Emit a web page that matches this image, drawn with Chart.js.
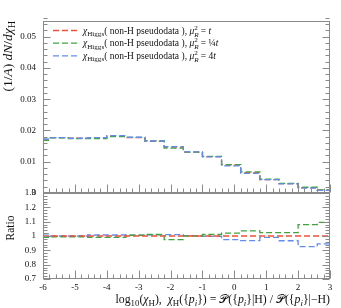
<!DOCTYPE html>
<html>
<head>
<meta charset="utf-8">
<script src="https://cdn.jsdelivr.net/npm/chart.js@4.4.0/dist/chart.umd.min.js"></script>
<style>
  html, body { margin: 0; padding: 0; background: #fff; }
  #wrap { position: relative; width: 341px; height: 308px; }
  #wrap canvas { position: absolute; left: 0; top: 0; }
</style>
</head>
<body>
<div id="wrap">
  <canvas id="mainChart" width="341" height="308"></canvas>
  <canvas id="ratioChart" width="341" height="308"></canvas>
</div>
<script>
// bin edges in log10(chi_H)
const binEdges = [-6, -5.8, -5.2, -4.6, -4.0, -3.4, -2.8, -2.2, -1.6, -1.0, -0.4, 0.2, 0.8, 1.4, 2.0, 2.6, 3.0];

// (1/A) dN/dchi_H per bin
const muCentral = [0.0170, 0.0177, 0.0175, 0.0176, 0.0182, 0.0177, 0.0165, 0.0147, 0.0131, 0.0116, 0.0089, 0.0065, 0.0043, 0.0030, 0.0017, 0.0009];
const muQuarter = [0.01683, 0.01761, 0.01741, 0.01742, 0.01802, 0.01779, 0.01667, 0.01433, 0.01310, 0.01172, 0.00908, 0.00673, 0.00440, 0.00307, 0.001836, 0.000986];
const muFour    = [0.01726, 0.0177, 0.0175, 0.01772, 0.01833, 0.01782, 0.01663, 0.01485, 0.01314, 0.01157, 0.00868, 0.00629, 0.004257, 0.002901, 0.001573, 0.000851];

const xTicks = [-6, -5, -4, -3, -2, -1, 0, 1, 2, 3];
const xTickLabels = ['-6', '-5', '-4', '-3', '-2', '-1', '0', '1', '2', '3'];
const mainTicks = [0, 0.01, 0.02, 0.03, 0.04, 0.05];
const mainTickLabels = ['0', '0.01', '0.02', '0.03', '0.04', '0.05'];
const ratioTicks = [0.7, 0.8, 0.9, 1, 1.1, 1.2, 1.3];
const ratioTickLabels = ['0.7', '0.8', '0.9', '1', '1.1', '1.2', '1.3'];

const RED = 'rgb(238,80,58)';
const GREEN = 'rgb(62,165,62)';
const BLUE = 'rgb(98,140,240)';
const FRAME = '#8a8a8a';
const SERIF = '"Liberation Serif", "DejaVu Serif", serif';

function fnt(size, italic) {
    return (italic ? 'italic ' : '') + size + 'px ' + SERIF;
}

// turn per-bin values into step points (last edge repeats the last value)
function histPoints(vals) {
    const pts = vals.map((v, i) => ({ x: binEdges[i], y: v }));
    pts.push({ x: binEdges[binEdges.length - 1], y: vals[vals.length - 1] });
    return pts;
}

function ratioTo(vals) {
    return vals.map((v, i) => v / muCentral[i]);
}

// rich text: parts are {t, i, s} or {sup, sub}
const SUB = 0.75;
function partWidth(ctx, p, size) {
    if (p.sup !== undefined) {
        ctx.font = fnt(size * SUB, false);
        const w1 = ctx.measureText(p.sup).width;
        ctx.font = fnt(size * SUB, true);
        const w2 = ctx.measureText(p.sub).width;
        return Math.max(w1, w2);
    }
    ctx.font = fnt(p.s ? size * SUB : size, p.i);
    return ctx.measureText(p.t).width;
}

function drawRich(ctx, parts, x, y, size, align) {
    let total = 0;
    parts.forEach(p => { total += partWidth(ctx, p, size); });
    let cx = align === 'right' ? x - total : align === 'center' ? x - total / 2 : x;
    ctx.textAlign = 'left';
    ctx.textBaseline = 'alphabetic';
    parts.forEach(p => {
        const w = partWidth(ctx, p, size);
        if (p.sup !== undefined) {
            ctx.font = fnt(size * SUB, false);
            ctx.fillText(p.sup, cx, y - size * 0.42);
            ctx.font = fnt(size * SUB, true);
            ctx.fillText(p.sub, cx, y + size * 0.32);
        } else {
            ctx.font = fnt(p.s ? size * SUB : size, p.i);
            const dy = p.s === 'sub' ? size * 0.25 : p.s === 'sup' ? -size * 0.4 : 0;
            ctx.fillText(p.t, cx, y + dy);
        }
        cx += w;
    });
}

function legendParts(scaleParts) {
    return [
        { t: 'χ', i: true }, { t: 'Higgs', s: 'sub' },
        { t: '( non-H pseudodata ), ' },
        { t: 'μ', i: true }, { sup: '2', sub: 'R' },
        { t: ' = ' }
    ].concat(scaleParts);
}

// frame + inward ticks, Rivet style
function frameTicks(minorY) {
    return {
        id: 'frameTicks',
        afterDatasetsDraw(chart) {
            const ctx = chart.ctx;
            const a = chart.chartArea;
            const xs = chart.scales.x;
            const ys = chart.scales.y;
            ctx.save();
            ctx.strokeStyle = FRAME;
            ctx.lineWidth = 1;
            const L = Math.round(a.left) + 0.5, R = Math.round(a.right) - 0.5;
            const T = Math.round(a.top) + 0.5, B = Math.round(a.bottom) - 0.5;
            ctx.strokeRect(L, T, R - L, B - T);
            ctx.beginPath();
            // x ticks on the bottom edge
            for (let v = xs.min; v <= xs.max + 1e-9; v += 0.2) {
                const major = Math.abs(v - Math.round(v)) < 1e-6;
                const px = Math.round(xs.getPixelForValue(v)) + 0.5;
                ctx.moveTo(px, B);
                ctx.lineTo(px, B - (major ? 8 : 4));
            }
            // y ticks on left and right
            const nMinor = Math.round((ys.max - ys.min) / minorY);
            for (let k = 0; k <= nMinor; k++) {
                const v = ys.min + k * minorY;
                const major = k % 5 === 0;
                const py = Math.round(ys.getPixelForValue(v)) + 0.5;
                const len = major ? 7 : 4;
                ctx.moveTo(L, py); ctx.lineTo(L + len, py);
                ctx.moveTo(R, py); ctx.lineTo(R - len, py);
            }
            ctx.stroke();
            ctx.restore();
        }
    };
}

const mainDecor = {
    id: 'mainDecor',
    afterDraw(chart) {
        const ctx = chart.ctx;
        ctx.save();
        ctx.fillStyle = '#111';
        // y title
        ctx.translate(11.5, 21);
        ctx.rotate(-Math.PI / 2);
        drawRich(ctx, [
            { t: '(1/' }, { t: 'A', i: true }, { t: ') ' },
            { t: 'dN', i: true }, { t: '/' }, { t: 'd', i: true },
            { t: 'χ', i: true }, { t: 'H', s: 'sub' }
        ], 0, 0, 13.5, 'right');
        ctx.restore();

        // legend
        const rows = [
            legendParts([{ t: 't', i: true }]),
            legendParts([{ t: '¼' }, { t: 't', i: true }]),
            legendParts([{ t: '4' }, { t: 't', i: true }])
        ];
        ctx.save();
        chart.data.datasets.forEach((ds, k) => {
            const y = 30.5 + k * 12.7;
            ctx.strokeStyle = ds.borderColor;
            ctx.lineWidth = 1.3;
            ctx.setLineDash([6, 3]);
            ctx.beginPath();
            ctx.moveTo(53, y);
            ctx.lineTo(79, y);
            ctx.stroke();
            ctx.fillStyle = '#111';
            drawRich(ctx, rows[k], 83, y + 3, 9.5, 'left');
        });
        ctx.restore();
    }
};

const ratioDecor = {
    id: 'ratioDecor',
    afterDraw(chart) {
        const ctx = chart.ctx;
        ctx.save();
        ctx.fillStyle = '#111';
        ctx.translate(14, 228);
        ctx.rotate(-Math.PI / 2);
        drawRich(ctx, [{ t: 'Ratio' }], 0, 0, 11.5, 'center');
        ctx.restore();

        ctx.save();
        ctx.fillStyle = '#111';
        const P = { t: '𝒫' };
        drawRich(ctx, [
            { t: 'log' }, { t: '10', s: 'sub' }, { t: '(' }, { t: 'χ', i: true }, { t: 'H', s: 'sub' },
            { t: '),  ' }, { t: 'χ', i: true }, { t: 'H', s: 'sub' }, { t: '({' }, { t: 'p', i: true },
            { t: 'i', i: true, s: 'sub' }, { t: '}) = ' }, P, { t: '({' }, { t: 'p', i: true },
            { t: 'i', i: true, s: 'sub' }, { t: '}|H) / ' }, P, { t: '({' }, { t: 'p', i: true },
            { t: 'i', i: true, s: 'sub' }, { t: '}|−H)' }
        ], 330, 303, 11.8, 'right');
        ctx.restore();
    }
};

function lineSet(label, vals, color, order) {
    return {
        label: label,
        data: vals,
        borderColor: color,
        backgroundColor: color,
        borderWidth: 1.3,
        borderDash: [6, 3],
        stepped: 'before',
        pointRadius: 0,
        fill: false,
        order: order
    };
}

function yScale(min, max, ticks, labels) {
    return {
        type: 'linear',
        min: min,
        max: max,
        afterFit: s => { s.width = 43; },
        afterBuildTicks: s => { s.ticks = ticks.map(v => ({ value: v })); },
        grid: { display: false, drawTicks: false },
        border: { display: false },
        ticks: {
            autoSkip: false,
            padding: 7,
            color: '#111',
            font: { family: SERIF, size: 9 },
            callback: (v, i) => labels[i]
        }
    };
}

Chart.defaults.animation = false;

new Chart(document.getElementById('mainChart'), {
    type: 'line',
    data: {
        datasets: [
            lineSet('mu_R^2 = t', histPoints(muCentral), RED, 3),
            lineSet('mu_R^2 = t/4', histPoints(muQuarter), GREEN, 2),
            lineSet('mu_R^2 = 4t', histPoints(muFour), BLUE, 1)
        ]
    },
    options: {
        responsive: false,
        layout: { padding: { left: 0, top: 21, right: 11, bottom: 115 } },
        plugins: { legend: { display: false }, tooltip: { enabled: false } },
        scales: {
            x: { type: 'linear', min: -6, max: 3, display: false },
            y: yScale(0, 0.055, mainTicks, mainTickLabels)
        }
    },
    plugins: [frameTicks(0.002), mainDecor]
});

new Chart(document.getElementById('ratioChart'), {
    type: 'line',
    data: {
        datasets: [
            lineSet('ref', histPoints(ratioTo(muCentral)), RED, 0),
            lineSet('quarter', histPoints(ratioTo(muQuarter)), GREEN, 1),
            lineSet('four', histPoints(ratioTo(muFour)), BLUE, 2)
        ]
    },
    options: {
        responsive: false,
        layout: { padding: { left: 0, top: 193, right: 11, bottom: 0 } },
        plugins: { legend: { display: false }, tooltip: { enabled: false } },
        scales: {
            x: {
                type: 'linear',
                min: -6,
                max: 3,
                afterFit: s => { s.height = 29; },
                afterBuildTicks: s => { s.ticks = xTicks.map(v => ({ value: v })); },
                grid: { display: false, drawTicks: false },
                border: { display: false },
                ticks: {
                    autoSkip: false,
                    maxRotation: 0,
                    padding: 3,
                    color: '#111',
                    font: { family: SERIF, size: 9 },
                    callback: (v, i) => xTickLabels[i]
                }
            },
            y: yScale(0.7, 1.3, ratioTicks, ratioTickLabels)
        }
    },
    plugins: [frameTicks(0.02), ratioDecor]
});
</script>
</body>
</html>
